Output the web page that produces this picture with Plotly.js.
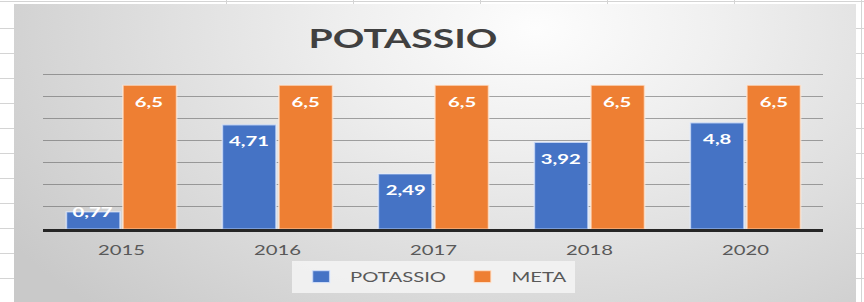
<!DOCTYPE html>
<html>
<head>
<meta charset="utf-8">
<script src="https://cdn.plot.ly/plotly-3.0.1.min.js"></script>
<style>
  html, body { margin:0; padding:0; background:#fff; }
  #sheet {
    position:absolute; left:0; top:0; width:864px; height:302px; overflow:hidden;
    background-color:#fff;
    background-image:
      repeating-linear-gradient(to right, transparent 0, transparent 126px, #d4d4d4 126px, #d4d4d4 127px),
      repeating-linear-gradient(to bottom, transparent 0, transparent 24px, #d4d4d4 24px, #d4d4d4 25px);
    background-position: 100px 0, 0 4px;
  }
  #box {
    position:absolute; left:14px; top:4px; width:842px; height:300px; overflow:hidden;
    background: radial-gradient(ellipse 75% 130% at 62% 8%, #fdfdfd 0%, #efefef 30%, #dcdcdc 65%, #c9c9c9 100%);
  }
  #plot {
    position:absolute; left:-14px; top:-4px; width:596px; height:302px;
    transform: scaleX(1.4497); transform-origin: 0 0;
  }
</style>
</head>
<body>
<div id="sheet"><div id="box"><div id="plot"></div></div></div>
<script>
const years = ['2015', '2016', '2017', '2018', '2020'];
const potassio = [0.77, 4.71, 2.49, 3.92, 4.8];
const meta = [6.5, 6.5, 6.5, 6.5, 6.5];
const seriesNames = ['POTASSIO', 'META'];

const blue = '#4573c5';
const orange = '#ee7f33';
const fontFam = 'Lato, "Open Sans", sans-serif';
const fmt = v => String(v).replace('.', ',');

const bargap = 0.275;
const slot = (1 - bargap) / 2;
const plotH = 302 - 72 - 73;
const yMax = 7.1;
const pxPerUnit = plotH / yMax;

const traces = [
  {type:'bar', name:seriesNames[0], x:years, y:potassio,
   marker:{color:blue, line:{color:'rgba(225,235,255,0.7)', width:1.2}}, hoverinfo:'none'},
  {type:'bar', name:seriesNames[1], x:years, y:meta,
   marker:{color:orange, line:{color:'rgba(255,235,220,0.7)', width:1.2}}, hoverinfo:'none'}
];

const annotations = [];
[potassio, meta].forEach((arr, s) => {
  arr.forEach((v, i) => {
    annotations.push({
      xref:'x', yref:'y', x: i + (s === 0 ? -slot/2 : slot/2), y: v,
      text: fmt(v), showarrow:false, yanchor:'middle',
      yshift: v * pxPerUnit > 30 ? -16 : 0,
      font:{family:fontFam, size:14, color:'#ffffff', weight:'bold'}
    });
  });
});

const layout = {
  width:596, height:302,
  margin:{l:29.7, r:28.3, t:72, b:73},
  paper_bgcolor:'rgba(0,0,0,0)', plot_bgcolor:'rgba(0,0,0,0)',
  title:{text:'POTASSIO', xref:'container', yref:'container', x:0.4664, xanchor:'center', y:0.871, yanchor:'middle',
         font:{family:fontFam, size:27, color:'#404040', weight:'bold'}},
  barmode:'group', bargap:bargap, bargroupgap:0.05,
  xaxis:{type:'category', showline:true, linecolor:'#262626', linewidth:2.5, showgrid:false,
         tickfont:{family:fontFam, size:14, color:'#595959'}, ticks:'', ticklabelstandoff:7, fixedrange:true,
         automargin:false},
  yaxis:{range:[0,yMax], dtick:1, showticklabels:false, showgrid:true, gridcolor:'rgba(95,95,95,0.55)', gridwidth:1,
         zeroline:false, showline:false, fixedrange:true, automargin:false},
  showlegend:true,
  legend:{orientation:'h', xref:'paper', x:0.5, xanchor:'center', yref:'container', y:0.136, yanchor:'top',
          bgcolor:'rgba(243,243,243,0.9)',
          font:{family:fontFam, size:14, color:'#595959'}, itemwidth:30, traceorder:'normal'},
  annotations:annotations
};

Plotly.newPlot('plot', traces, layout, {displayModeBar:false, staticPlot:true});
</script>
</body>
</html>
